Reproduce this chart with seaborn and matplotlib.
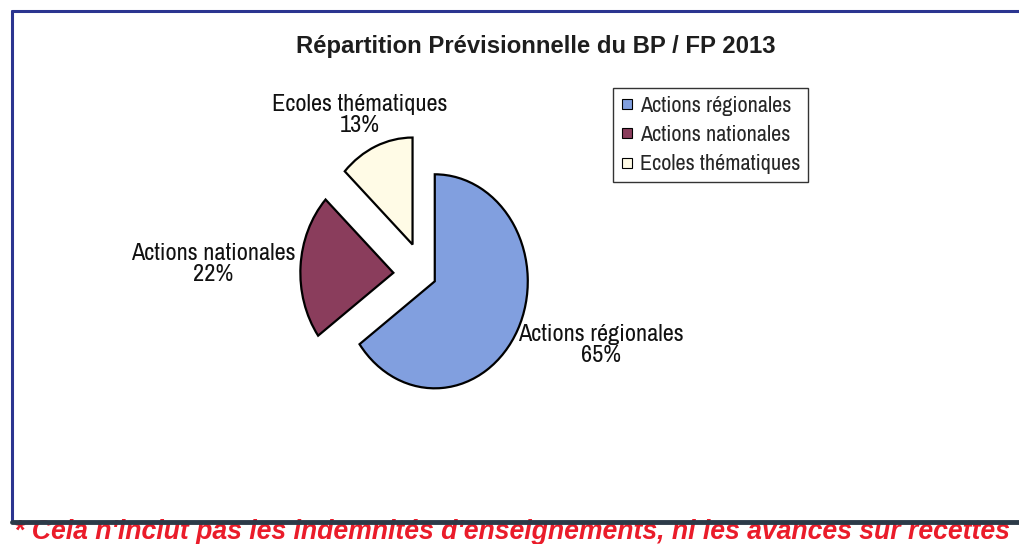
import matplotlib
matplotlib.use("Agg")
import matplotlib.pyplot as plt
import seaborn as sns
from matplotlib.lines import Line2D

sns.set_theme(style="white")
plt.rcParams['font.family'] = ['Liberation Sans', 'DejaVu Sans']

categories = ["Actions régionales", "Actions nationales", "Ecoles thématiques"]
values = [65, 22, 13]
colors = ["#819fdf", "#8a3d5c", "#fffbe6"]
title = "Répartition Prévisionnelle du BP / FP 2013"
footnote = "* Cela n'inclut pas les indemnités d'enseignements, ni les avances sur recettes"

W, H = 1020, 544
fig = plt.figure(figsize=(W / 100, H / 100), dpi=100)
fig.patch.set_facecolor("white")

def fx(px):
    return px / W

def fy(py):
    return 1 - py / H

# pie axes: 1 data unit = 93 px horizontally, 107 px vertically
cx, cy = 424, 275
rx, ry = 93, 107
span = 1.6
ax = fig.add_axes([fx(cx - span * rx), fy(cy + span * ry), 2 * span * rx / W, 2 * span * ry / H])
wedges, _ = ax.pie(values, colors=colors, startangle=90, counterclock=False,
                   explode=(0.13, 0.33, 0.31),
                   wedgeprops=dict(edgecolor="black", linewidth=1.6))
ax.set_xlim(-span, span)
ax.set_ylim(-span, span)
ax.set_aspect("auto")
ax.axis("off")

narrow = ['Archivo Narrow', 'Liberation Sans', 'DejaVu Sans']
label_pos = [(601, 345), (213, 264), (360, 115)]
for cat, v, (px, py) in zip(categories, values, label_pos):
    fig.text(fx(px), fy(py), f"{cat}\n{v}%", ha="center", va="center",
             fontsize=17.5, family=narrow, color="#111111", linespacing=0.98)

fig.text(fx(536), fy(46), title, ha="center", va="center", fontsize=17.2,
         fontweight="bold", color="#1e1e1e")

handles = [Line2D([], [], marker="s", linestyle="none", markersize=7.5,
                  markerfacecolor=c, markeredgecolor="black", markeredgewidth=0.8)
           for c in colors]
leg = fig.legend(handles, categories, loc="upper left",
                 bbox_to_anchor=(fx(613), fy(88)), frameon=True, fancybox=False,
                 prop=dict(family=narrow, size=16), handlelength=0.6,
                 handletextpad=0.25, borderpad=0.35, labelspacing=0.42,
                 borderaxespad=0)
leg.get_frame().set_edgecolor("black")
leg.get_frame().set_linewidth(1.0)

# frame lines
fig.text(fx(14), fy(532), footnote, ha="left", va="center", fontsize=19.2,
         fontweight="bold", fontstyle="italic", color="#ea1c2a", zorder=1)
fig.add_artist(Line2D([fx(12), fx(1020)], [fy(11), fy(11)], color="#2b3590", lw=2.2))
fig.add_artist(Line2D([fx(12), fx(12)], [fy(11), fy(522)], color="#2b3590", lw=2.2))
fig.add_artist(Line2D([fx(12), fx(1020)], [fy(522), fy(522)], color="#2c3a48", lw=3.5, zorder=3))

fig.savefig("out.png", dpi=100)
